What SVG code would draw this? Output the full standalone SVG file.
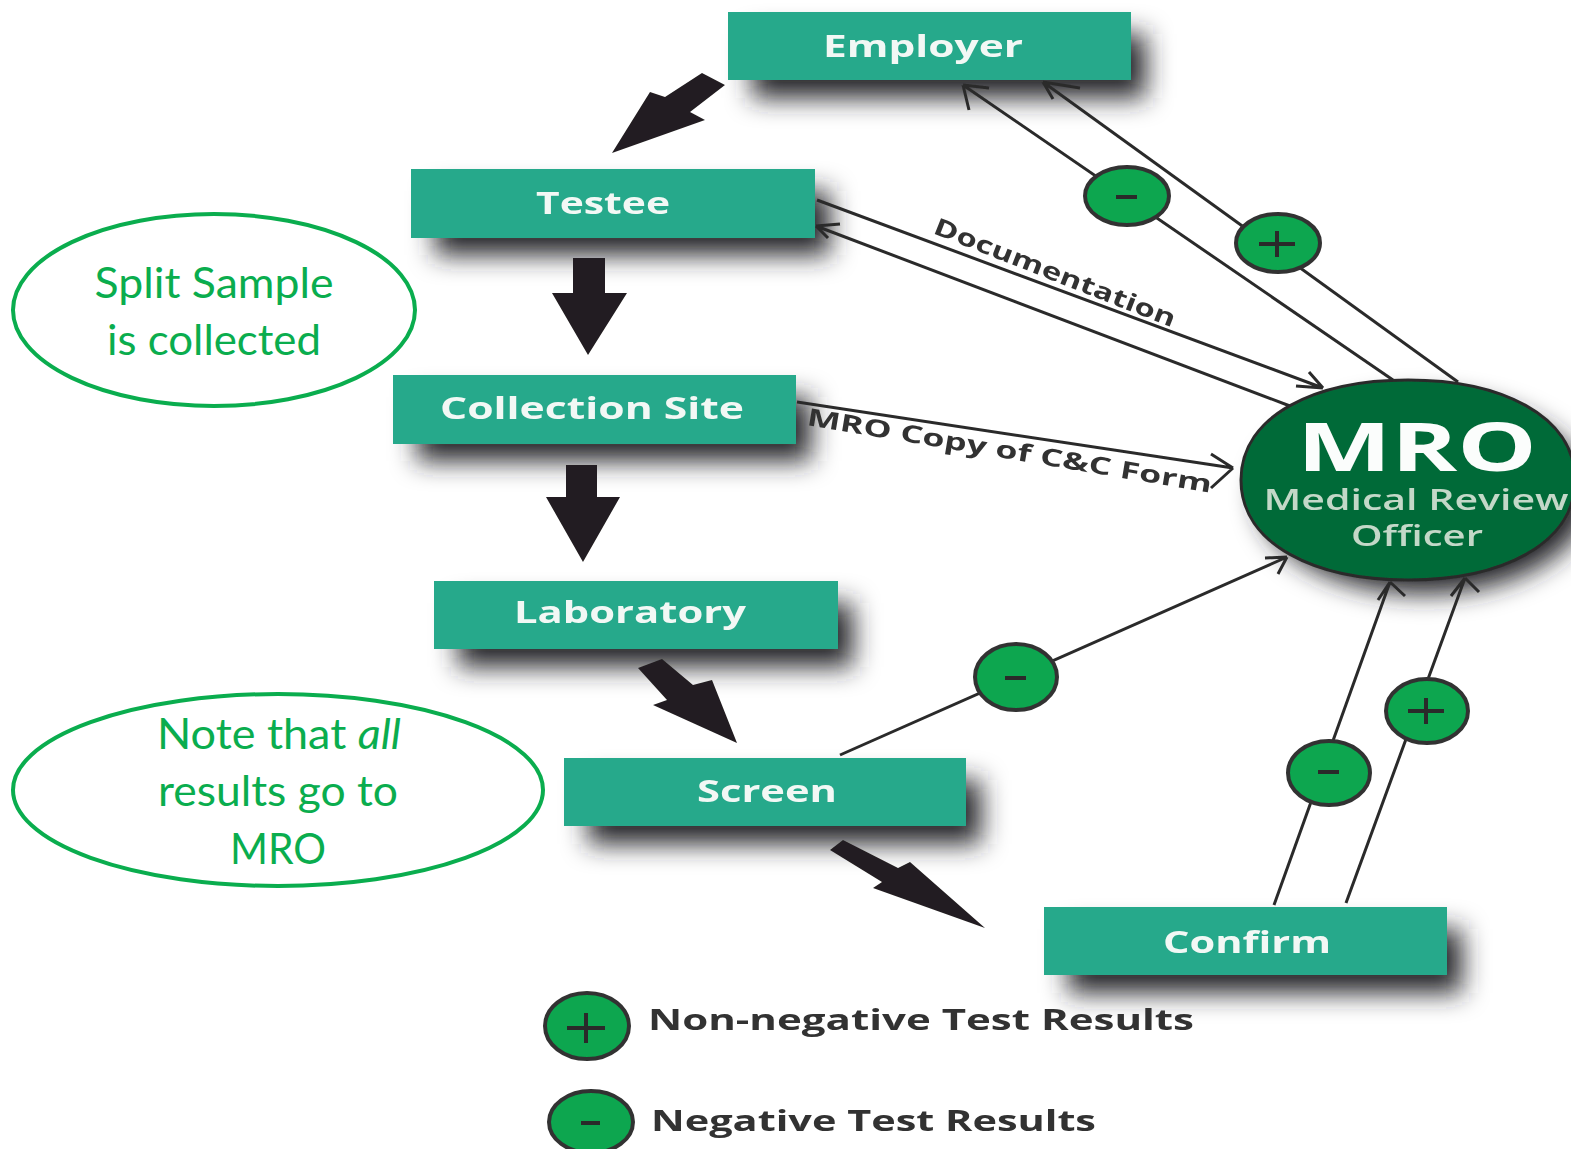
<svg xmlns="http://www.w3.org/2000/svg" width="1571" height="1149" viewBox="0 0 1571 1149">
<style>
.box{fill:#27a98b}
.shadow{fill:#26262c;filter:url(#blur)}
.lbl{font-family:"Open Sans","Liberation Sans",sans-serif;font-weight:700;font-size:31px;fill:#f2f8f5;text-anchor:middle}
.wire{fill:none;stroke:#2b2b2b;stroke-width:3}
.big{fill:#231f20}
.badge{fill:#0ca64f;stroke:#333;stroke-width:4}
.sym{stroke:#2b2b2b;stroke-width:4;fill:none}
.cap{font-family:"Open Sans","Liberation Sans",sans-serif;font-weight:700;font-size:24px;fill:#333}
.leg{font-size:28px}
.note{fill:#fff;stroke:#0aad4e;stroke-width:4}
.ntx{font-family:Lato,"Liberation Sans",sans-serif;font-size:42px;fill:#0aad4e;text-anchor:middle}
</style>
<defs>
<filter id="blur" x="-20%" y="-100%" width="140%" height="300%"><feGaussianBlur stdDeviation="13"/></filter>
<filter id="soft" x="-5%" y="-5%" width="110%" height="110%"><feGaussianBlur stdDeviation="0.7"/></filter>
</defs>

<g id="shadows">
<rect class="shadow" x="752" y="34" width="394" height="64"/>
<rect class="shadow" x="435" y="191" width="395" height="64"/>
<rect class="shadow" x="417" y="397" width="394" height="64"/>
<rect class="shadow" x="458" y="603" width="395" height="64"/>
<rect class="shadow" x="588" y="780" width="393" height="64"/>
<rect class="shadow" x="1068" y="929" width="394" height="64"/>
<ellipse class="shadow" cx="1424" cy="496" rx="166" ry="98"/>
</g>

<g id="connectors" filter="url(#soft)">
<path class="wire" d="M1393 380L963 85M963 85l26 3M963 85l6 25"/>
<path class="wire" d="M1458 382L1043 82M1043 82l37 6M1043 82l10 17"/>
<path class="wire" d="M817 200L1323 388M1323 388l-27-2M1323 388l-14-16"/>
<path class="wire" d="M1290 406L816 226M816 226l24-2M816 226l12 12"/>
<path class="wire" d="M797 402L1233 468M1233 468l-22-14M1233 468l-22 20"/>
<path class="wire" d="M840 755L1287 557M1287 557l-22 1M1287 557l-9 17"/>
<path class="wire" d="M1274 905L1390 582M1390 582l-12 18M1390 582l15 14"/>
<path class="wire" d="M1346 903L1465 578M1465 578l-14 18M1465 578l14 14"/>
<polygon class="big" points="702,73 725,85 690,112 705,120 612,153 650,92 665,97"/>
<polygon class="big" points="573,258 605,258 605,293 627,293 588,355 552,293 573,293"/>
<polygon class="big" points="566,465 597,465 597,497 620,497 583,562 546,497 566,497"/>
<polygon class="big" points="638,668 662,659 693,685 712,680 737,743 653,705 667,700"/>
<polygon class="big" points="830,850 843,840 898,868 910,862 985,928 873,888 882,882"/>
</g>

<g id="nodes" filter="url(#soft)">
<g id="node-employer"><rect class="box" x="728" y="12" width="403" height="68"/><text class="lbl" x="923" y="57" textLength="200" lengthAdjust="spacingAndGlyphs">Employer</text></g>
<g id="node-testee"><rect class="box" x="411" y="169" width="404" height="69"/><text class="lbl" x="603" y="214" textLength="134" lengthAdjust="spacingAndGlyphs">Testee</text></g>
<g id="node-collection"><rect class="box" x="393" y="375" width="403" height="69"/><text class="lbl" x="592" y="419" textLength="304" lengthAdjust="spacingAndGlyphs">Collection Site</text></g>
<g id="node-laboratory"><rect class="box" x="434" y="581" width="404" height="68"/><text class="lbl" x="630" y="623" textLength="232" lengthAdjust="spacingAndGlyphs">Laboratory</text></g>
<g id="node-screen"><rect class="box" x="564" y="758" width="402" height="68"/><text class="lbl" x="767" y="802" textLength="140" lengthAdjust="spacingAndGlyphs">Screen</text></g>
<g id="node-confirm"><rect class="box" x="1044" y="907" width="403" height="68"/><text class="lbl" x="1247" y="953" textLength="168" lengthAdjust="spacingAndGlyphs">Confirm</text></g>

<g id="node-mro">
<path d="M1241 480C1241 415 1316 380 1408 380C1500 380 1575 415 1575 480C1575 545 1500 580 1408 580C1316 580 1241 545 1241 480Z" fill="#056a38" stroke="#2b2b2b" stroke-width="3"/>
<text x="1417" y="471" font-family="'Open Sans','Liberation Sans',sans-serif" font-weight="700" font-size="66" fill="#fbfdfc" text-anchor="middle" textLength="240" lengthAdjust="spacingAndGlyphs">MRO</text>
<text x="1416" y="510" font-family="'Open Sans','Liberation Sans',sans-serif" font-weight="600" font-size="28" fill="#c3d8c8" text-anchor="middle" textLength="305" lengthAdjust="spacingAndGlyphs">Medical Review</text>
<text x="1417" y="546" font-family="'Open Sans','Liberation Sans',sans-serif" font-weight="600" font-size="28" fill="#c3d8c8" text-anchor="middle" textLength="132" lengthAdjust="spacingAndGlyphs">Officer</text>
</g>

<g id="edge-labels">
<text class="cap" transform="translate(932 233) rotate(21.5)" textLength="258" lengthAdjust="spacingAndGlyphs">Documentation</text>
<text class="cap" transform="translate(806 425) rotate(9.5)" textLength="410" lengthAdjust="spacingAndGlyphs">MRO Copy of C&amp;C Form</text>
</g>

<g id="badges">
<g id="badge-emp-neg"><ellipse class="badge" cx="1127" cy="196" rx="42" ry="29"/><path class="sym" d="M1116 197h21"/></g>
<g id="badge-emp-pos"><ellipse class="badge" cx="1278" cy="243" rx="42" ry="29"/><path class="sym" d="M1259 244h36M1277 231v26"/></g>
<g id="badge-screen-neg"><ellipse class="badge" cx="1016" cy="677" rx="41" ry="33"/><path class="sym" d="M1005 678h21"/></g>
<g id="badge-conf-neg"><ellipse class="badge" cx="1329" cy="773" rx="41" ry="32"/><path class="sym" d="M1318 772h21"/></g>
<g id="badge-conf-pos"><ellipse class="badge" cx="1427" cy="711" rx="41" ry="32"/><path class="sym" d="M1408 711h36M1426 698v26"/></g>
</g>

<g id="legend">
<g id="legend-pos"><ellipse class="badge" cx="587" cy="1026" rx="42" ry="33"/><path class="sym" d="M567 1028h38M586 1013v30"/>
<text class="cap leg" x="648" y="1030" textLength="546" lengthAdjust="spacingAndGlyphs">Non-negative Test Results</text></g>
<g id="legend-neg"><ellipse class="badge" cx="591" cy="1122" rx="42" ry="31"/><path class="sym" d="M581 1123h19"/>
<text class="cap leg" x="651" y="1131" textLength="445" lengthAdjust="spacingAndGlyphs">Negative Test Results</text></g>
</g>
</g>

<g id="note-split"><ellipse class="note" cx="214" cy="310" rx="201" ry="96"/>
<text class="ntx" x="214" y="298" textLength="239" lengthAdjust="spacingAndGlyphs">Split Sample</text><text class="ntx" x="214" y="355" textLength="214" lengthAdjust="spacingAndGlyphs">is collected</text></g>
<g id="note-all"><ellipse class="note" cx="278" cy="790" rx="265" ry="96"/>
<text class="ntx" x="279" y="749" textLength="244" lengthAdjust="spacingAndGlyphs">Note that <tspan font-style="italic">all</tspan></text><text class="ntx" x="278" y="806" textLength="240" lengthAdjust="spacingAndGlyphs">results go to</text><text class="ntx" x="278" y="864" textLength="96" lengthAdjust="spacingAndGlyphs">MRO</text></g>
</svg>
